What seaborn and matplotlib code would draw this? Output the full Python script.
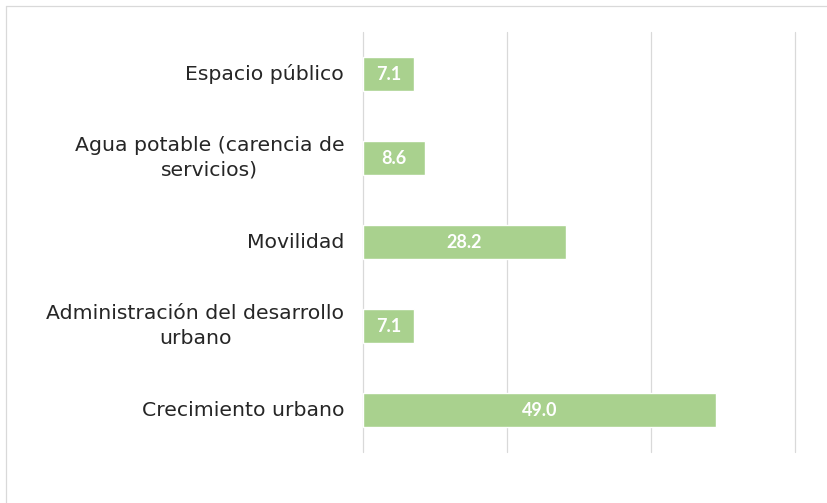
import matplotlib
matplotlib.use("Agg")
import matplotlib.pyplot as plt
import seaborn as sns
import pandas as pd
from matplotlib.lines import Line2D

# Data
categories = [
    "Espacio público",
    "Agua potable (carencia de\nservicios)",
    "Movilidad",
    "Administración del desarrollo\nurbano",
    "Crecimiento urbano",
]
values = [7.1, 8.6, 28.2, 7.1, 49.0]
value_labels = ["7.1", "8.6", "28.2", "7.1", "49.0"]
x_ticks = [0, 20, 40, 60]

df = pd.DataFrame({"categoria": categories, "valor": values})

sns.set_style("white")
plt.rcParams["font.family"] = ["DejaVu Sans"]

fig = plt.figure(figsize=(8.28, 5.03), dpi=100)
ax = fig.add_axes([363 / 828, 1 - 452 / 503, (795 - 363) / 828, (452 - 32) / 503])

sns.barplot(data=df, y="categoria", x="valor", orient="h", color="#a9d18e",
            saturation=1, width=0.4, ax=ax, zorder=3)

ax.set_xlim(0, 60)
ax.set_ylim(4.5, -0.5)
ax.set_xticks(x_ticks)
ax.set_xticklabels([])
ax.grid(axis="x", color="#d9d9d9", linewidth=0.9, zorder=0)
for gl in ax.get_xgridlines():
    gl.set_clip_on(False)
ax.tick_params(axis="both", length=0)
ax.tick_params(axis="y", pad=13.5)
for s in ax.spines.values():
    s.set_visible(False)
ax.set_xlabel("")
ax.set_ylabel("")
for lbl in ax.get_yticklabels():
    lbl.set_fontsize(14.7)
    lbl.set_color("#262626")
    lbl.set_multialignment("center")
    lbl.set_linespacing(1.4)
    lbl.set_verticalalignment("center")

for patch, txt in zip(ax.patches, value_labels):
    ax.text(patch.get_x() + patch.get_width() / 2,
            patch.get_y() + patch.get_height() / 2, txt,
            ha="center", va="center", color="white", fontsize=13,
            fontweight="bold", family=["Lato", "DejaVu Sans"], zorder=4)

# outer frame of the chart area (left and top edges)
fig.add_artist(Line2D([6 / 828, 6 / 828], [0, 1 - 6 / 503], color="#d9d9d9",
                      linewidth=0.9, transform=fig.transFigure))
fig.add_artist(Line2D([6 / 828, 1], [1 - 6 / 503, 1 - 6 / 503], color="#d9d9d9",
                      linewidth=0.9, transform=fig.transFigure))

fig.savefig("out.png", dpi=100)
